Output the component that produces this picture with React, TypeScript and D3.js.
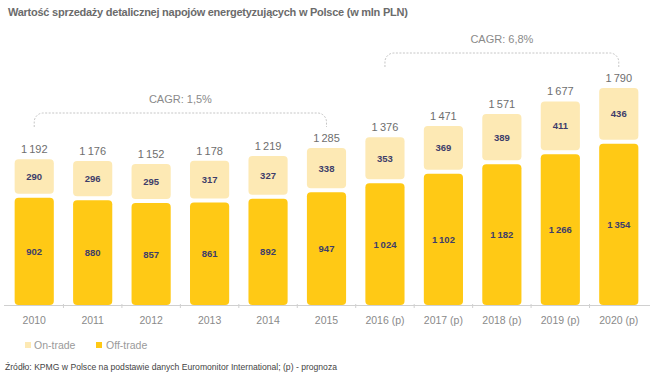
import React from "react";
import * as d3 from "d3";

const categories = ["2010", "2011", "2012", "2013", "2014", "2015", "2016 (p)", "2017 (p)", "2018 (p)", "2019 (p)", "2020 (p)"];
const offTrade = [902, 880, 857, 861, 892, 947, 1024, 1102, 1182, 1266, 1354];
const onTrade = [290, 296, 295, 317, 327, 338, 353, 369, 389, 411, 436];
const totals = [1192, 1176, 1152, 1178, 1219, 1285, 1376, 1471, 1571, 1677, 1790];
const cagrLabels = ["CAGR: 1,5%", "CAGR: 6,8%"];
const cagrRanges: [number, number][] = [[0, 5], [6, 10]];
const legendLabels = ["On-trade", "Off-trade"];

const W = 655;
const H = 376;
const BASE = 305;
const GAP = 4;
const COL_OFF = "#FFC915";
const COL_ON = "#FDE9B4";
const FONT = "'Liberation Sans', Arial, sans-serif";

const fmt = (v: number) => {
  const s = String(v);
  return s.length > 3 ? s.slice(0, s.length - 3) + "\u2009" + s.slice(s.length - 3) : s;
};

export default function App() {
  const x = d3.scaleBand<string>().domain(categories).range([5, 648]).paddingInner(0.33).paddingOuter(0.165);
  const y = d3.scaleLinear().domain([0, 2000]).range([BASE, BASE - 238]);
  const bw = x.bandwidth();
  const cx = (i: number) => (x(categories[i]) as number) + bw / 2;

  const bracketLevels = [113, 53];

  return (
    <svg width={W} height={H} style={{ position: "fixed", left: 0, top: 0, background: "#fff" }} fontFamily={FONT}>
      <text x={8} y={16} fontSize={11} fontWeight="bold" fill="#6b6b6b" letterSpacing={-0.25}>
        Wartość sprzedaży detalicznej napojów energetyzujących w Polsce (w mln PLN)
      </text>

      {/* CAGR brackets */}
      {cagrRanges.map(([a, b], k) => {
        const x0 = cx(a);
        const x1 = cx(b);
        const yl = bracketLevels[k];
        const r = 9;
        const leg = 14;
        const p = d3.path();
        p.moveTo(x0, yl + leg);
        p.lineTo(x0, yl + r);
        p.arcTo(x0, yl, x0 + r, yl, r);
        p.lineTo(x1 - r, yl);
        p.arcTo(x1, yl, x1, yl + r, r);
        p.lineTo(x1, yl + leg);
        return (
          <g key={k}>
            <path d={p.toString()} fill="none" stroke="#b8b8b8" strokeWidth={0.8} strokeDasharray="2,1.5" />
            <text x={(x0 + x1) / 2} y={yl - 10} textAnchor="middle" fontSize={11} fill="#8a8a8a">
              {cagrLabels[k]}
            </text>
          </g>
        );
      })}

      {/* axis line */}
      <line x1={4} x2={650} y1={BASE + 0.5} y2={BASE + 0.5} stroke="#d0d0d0" strokeWidth={1} />
      {categories.slice(1).map((c) => {
        const tx = (x(c) as number) - (x.step() - bw) / 2;
        return <line key={c} x1={tx} x2={tx} y1={BASE - 1} y2={BASE + 3} stroke="#d0d0d0" strokeWidth={1} />;
      })}

      {categories.map((c, i) => {
        const bx = x(c) as number;
        const yOff = y(offTrade[i]);
        const yOnBottom = yOff - GAP;
        const yOnTop = y(offTrade[i] + onTrade[i]) - GAP;
        return (
          <g key={c}>
            <rect x={bx} y={yOff} width={bw} height={BASE - yOff} rx={4} fill={COL_OFF} />
            <rect x={bx} y={yOnTop} width={bw} height={yOnBottom - yOnTop} rx={4} fill={COL_ON} />
            <text x={bx + bw / 2} y={(yOff + BASE) / 2 + 3.5} textAnchor="middle" fontSize={9.5} fontWeight="bold" fill="#3e3d6a">
              {fmt(offTrade[i])}
            </text>
            <text x={bx + bw / 2} y={(yOnTop + yOnBottom) / 2 + 3.5} textAnchor="middle" fontSize={9.5} fontWeight="bold" fill="#3e3d6a">
              {fmt(onTrade[i])}
            </text>
            <text x={bx + bw / 2} y={yOnTop - 6} textAnchor="middle" fontSize={11} fill="#6e6e6e">
              {fmt(totals[i])}
            </text>
            <text x={bx + bw / 2} y={BASE + 19} textAnchor="middle" fontSize={10.5} fill="#8a8a8a">
              {c}
            </text>
          </g>
        );
      })}

      {/* legend */}
      <rect x={25} y={342} width={6} height={6} fill={COL_ON} />
      <text x={34} y={349} fontSize={10.5} fill="#9a9a9a">{legendLabels[0]}</text>
      <rect x={96} y={342} width={6} height={6} fill={COL_OFF} />
      <text x={106} y={349} fontSize={10.5} fill="#9a9a9a">{legendLabels[1]}</text>

      <text x={5} y={370} fontSize={8.6} fill="#444">
        Źródło: KPMG w Polsce na podstawie danych Euromonitor International; (p) - prognoza
      </text>
    </svg>
  );
}
